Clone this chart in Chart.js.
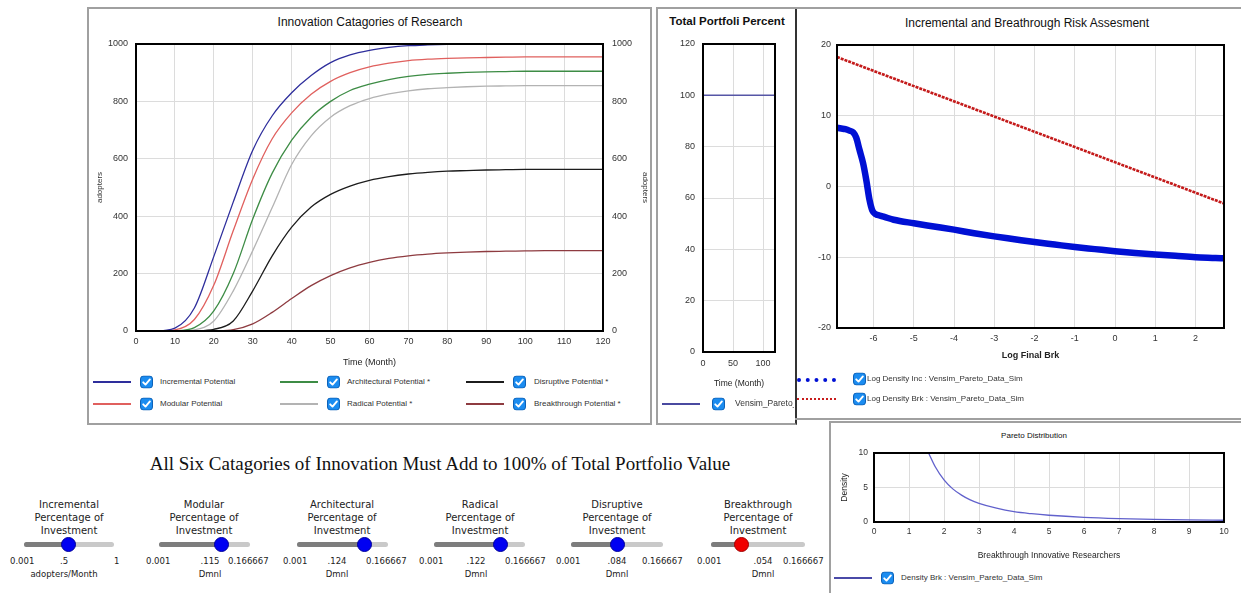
<!DOCTYPE html>
<html>
<head>
<meta charset="utf-8">
<script src="https://cdn.jsdelivr.net/npm/chart.js@4.4.1/dist/chart.umd.min.js"></script>
<style>
  html, body { margin: 0; padding: 0; }
  body { width: 1241px; height: 593px; position: relative; overflow: hidden; background: #fff;
         font-family: "Liberation Sans", Arial, sans-serif; color: #222; }
  .panel { position: absolute; box-sizing: border-box; border: 2px solid #a0a0a0; }
  canvas { position: absolute; }
  .abs { position: absolute; white-space: nowrap; }
  .ptitle { font-size: 12px; color: #111; transform: translateX(-50%); }
  .legtxt { font-size: 8px; color: #333; transform: translateY(-50%); }
  .sample { position: absolute; height: 0; }
  .cb { position: absolute; width: 13px; height: 13px; transform: translateY(-50%); }
  .headline { font-family: "Liberation Serif", "Times New Roman", serif; font-size: 19px; color: #111;
              transform: translateX(-50%); }
  .sl-title { font-family: "DejaVu Sans", sans-serif; font-size: 10px; line-height: 13px; color: #222;
              text-align: center; transform: translateX(-50%); }
  .sl-lab { font-family: "DejaVu Sans", sans-serif; font-size: 8.5px; color: #222; }
  .track { position: absolute; height: 5px; border-radius: 3px; background: #c9c9c9; overflow: hidden; }
  .track .fill { position: absolute; left: 0; top: 0; bottom: 0; background: #7d7d7d; }
  .thumb { position: absolute; width: 15px; height: 15px; border-radius: 50%; box-sizing: border-box; }
</style>
</head>
<body>

<script>
// ---------------- data ----------------
// Innovation categories: adopters over time (months)
const months = [0, 5, 10, 15, 20, 25, 30, 35, 40, 45, 50, 55, 60, 65, 70, 75, 80, 85, 90, 95, 100, 105, 110, 115, 120];
const incrementalPotential = [0, 0, 10, 80, 260, 450, 630, 750, 830, 890, 935, 962, 978, 988, 994, 997, 999, 1000, 1000, 1000, 1000, 1000, 1000, 1000, 1000];
const modularPotential = [0, 0, 4, 40, 160, 350, 530, 670, 760, 825, 870, 900, 920, 933, 942, 947, 950, 952, 953, 954, 955, 955, 955, 955, 955];
const architecturalPotential = [0, 0, 1, 12, 70, 200, 390, 550, 665, 745, 800, 838, 860, 876, 887, 894, 898, 901, 903, 904, 905, 905, 905, 905, 905];
const radicalPotential = [0, 0, 0, 4, 35, 140, 280, 430, 580, 680, 745, 785, 810, 826, 837, 844, 848, 851, 853, 854, 855, 855, 855, 855, 855];
const disruptivePotential = [0, 0, 0, 1, 6, 35, 140, 262, 362, 432, 476, 505, 525, 538, 547, 553, 557, 559, 561, 562, 563, 563, 563, 563, 563];
const breakthroughPotential = [0, 0, 0, 0, 1, 5, 25, 65, 113, 158, 193, 220, 239, 253, 262, 268, 272, 275, 277, 278, 279, 280, 280, 280, 280];
const potentialNames = ["Incremental Potential", "Modular Potential", "Architectural Potential *", "Radical Potential *", "Disruptive Potential *", "Breakthrough Potential *"];

// Total portfolio percent over time
const portfolioMonths = [0, 120];
const portfolioPercent = [100, 100];

// Risk assessment: log density against log final breakthrough
const logIncX = [-6.908, -6.8, -6.7, -6.6, -6.5, -6.43, -6.35, -6.26, -6.18, -6.1, -6.03, -5.95, -5.85, -5.73, -5.5, -5.0, -4.5, -4.0, -3.5, -3.0, -2.5, -2.0, -1.5, -1.0, -0.5, 0, 0.5, 1.0, 1.5, 2.0, 2.5, 2.708];
const logDensityInc = [8.3, 8.2, 8.1, 7.9, 7.6, 6.9, 5.2, 3.3, 0.9, -1.9, -3.4, -3.9, -4.1, -4.3, -4.7, -5.2, -5.65, -6.1, -6.6, -7.05, -7.45, -7.85, -8.2, -8.55, -8.85, -9.15, -9.4, -9.6, -9.8, -10.0, -10.1, -10.15];
const logBrkX = [-6.908, 2.708];
const logDensityBrk = [18.3, -2.4];

// Pareto distribution of breakthrough researchers
const researchers = [1.56, 1.75, 2, 2.25, 2.5, 2.75, 3, 3.5, 4, 4.5, 5, 6, 7, 8, 9, 10];
const densityBrk = [10, 8.0, 6.1, 4.8, 3.9, 3.2, 2.7, 2.0, 1.5, 1.2, 0.98, 0.68, 0.5, 0.38, 0.3, 0.25];

// Investment sliders
const sliderNames = ["Incremental", "Modular", "Architectural", "Radical", "Disruptive", "Breakthrough"];
const sliderMin = [0.001, 0.001, 0.001, 0.001, 0.001, 0.001];
const sliderMax = [1, 0.166667, 0.166667, 0.166667, 0.166667, 0.166667];
const sliderValue = [0.5, 0.115, 0.124, 0.122, 0.084, 0.054];
const sliderValueText = [".5", ".115", ".124", ".122", ".084", ".054"];
const sliderUnits = ["adopters/Month", "Dmnl", "Dmnl", "Dmnl", "Dmnl", "Dmnl"];
</script>

<!-- panel frames -->
<div class="panel" style="left:87px;top:7px;width:565px;height:418px;"></div>
<div class="panel" style="left:656px;top:7px;width:141px;height:418px;border-right:2px solid #333;"></div>
<div class="panel" style="left:795px;top:7px;width:450px;height:413px;border-left:none;"></div>
<div class="panel" style="left:829px;top:421px;width:416px;height:176px;"></div>

<div class="abs ptitle" style="left:370px;top:15px;">Innovation Catagories of Research</div>
<div class="abs ptitle" style="left:727px;top:15px;font-weight:bold;font-size:11.5px;">Total Portfoli Percent</div>
<div class="abs ptitle" style="left:1027px;top:16px;">Incremental and Breathrough Risk Assesment</div>
<div class="abs ptitle" style="left:1034px;top:431px;font-size:8px;">Pareto Distribution</div>

<canvas id="cInnov" width="562" height="366" style="left:88px;top:8px;"></canvas>
<canvas id="cTotal" width="136" height="390" style="left:658px;top:8px;"></canvas>
<canvas id="cRisk" width="444" height="355" style="left:796px;top:9px;"></canvas>
<canvas id="cPareto" width="409" height="140" style="left:831px;top:424px;"></canvas>

<div class="abs headline" style="left:440px;top:453px;">All Six Catagories of Innovation Must Add to 100% of Total Portfolio Value</div>

<div id="legends"></div>
<div id="sliders"></div>

<script>
const CHECK_SVG = '<svg width="13" height="13" viewBox="0 0 13 13"><rect x="0.5" y="0.5" width="12" height="12" rx="3" fill="#1b8cf0" stroke="#0e62b8" stroke-width="1"/><path d="M3.2 6.8 L5.5 9.1 L9.9 3.9" fill="none" stroke="#fff" stroke-width="1.9" stroke-linecap="round" stroke-linejoin="round"/></svg>';

const legendHost = document.getElementById('legends');
function legendItem(lineX, lineW, y, lineCss, cbX, text, textX, clipRight, fontSize) {
  const s = document.createElement('div');
  s.className = 'sample';
  s.style.cssText = `left:${lineX}px;width:${lineW}px;top:${y}px;${lineCss}`;
  legendHost.appendChild(s);
  const c = document.createElement('div');
  c.className = 'cb';
  c.style.left = cbX + 'px';
  c.style.top = y + 'px';
  c.innerHTML = CHECK_SVG;
  legendHost.appendChild(c);
  const t = document.createElement('div');
  t.className = 'abs legtxt';
  t.style.left = textX + 'px';
  t.style.top = y + 'px';
  if (fontSize) t.style.fontSize = fontSize + 'px';
  if (clipRight) { t.style.width = (clipRight - textX) + 'px'; t.style.overflow = 'hidden'; }
  t.textContent = text;
  legendHost.appendChild(t);
}

// frame around the plotting area
const frame = {
  id: 'frame',
  afterDatasetsDraw(chart) {
    const { ctx, chartArea: a } = chart;
    ctx.save();
    ctx.strokeStyle = '#000';
    ctx.lineWidth = 2;
    ctx.strokeRect(a.left, a.top, a.right - a.left, a.bottom - a.top);
    ctx.restore();
  }
};

Chart.defaults.font.family = '"Liberation Sans", Arial, sans-serif';
Chart.defaults.color = '#333';
Chart.defaults.animation = false;
Chart.defaults.responsive = false;
Chart.defaults.plugins.legend.display = false;
Chart.defaults.plugins.tooltip.enabled = false;
Chart.defaults.elements.point.radius = 0;

const GRID = { color: '#dcdcdc', lineWidth: 1, drawTicks: false };
const tickFont = { size: 9 };
const plain = v => String(v);

function xy(xs, ys) { return xs.map((x, i) => ({ x, y: ys[i] })); }

// ---------- Innovation categories ----------
const innovColors = ['#2e2e9c', '#e0605e', '#3d8c45', '#b3b3b3', '#1c1c1c', '#8e3b40'];
const innovSeries = [incrementalPotential, modularPotential, architecturalPotential, radicalPotential, disruptivePotential, breakthroughPotential];
new Chart(document.getElementById('cInnov'), {
  type: 'line',
  data: {
    datasets: innovSeries.map((s, i) => ({
      label: potentialNames[i], data: xy(months, s), borderColor: innovColors[i],
      borderWidth: 1.3, cubicInterpolationMode: 'monotone', yAxisID: 'y'
    }))
  },
  options: {
    layout: { padding: { top: 36, left: 0, right: 0, bottom: 0 } },
    scales: {
      x: { type: 'linear', min: 0, max: 120, grid: GRID, border: { display: false },
           ticks: { stepSize: 10, padding: 5, font: tickFont, callback: plain },
           title: { display: true, text: 'Time (Month)', font: { size: 9 }, color: '#222', padding: { top: 2, bottom: 6.5 } },
           afterFit(s) { s.height = 43; } },
      y: { min: 0, max: 1000, grid: GRID, border: { display: false },
           ticks: { stepSize: 200, padding: 8, font: tickFont, callback: plain },
           title: { display: true, text: 'adopters', font: { size: 8 }, color: '#333', padding: { top: 7, bottom: 0 } },
           afterFit(s) { s.width = 48; } },
      y2: { position: 'right', min: 0, max: 1000, grid: { display: false, drawTicks: false }, border: { display: false },
            ticks: { stepSize: 200, padding: 9, font: tickFont, callback: plain },
            title: { display: true, text: 'adopters', font: { size: 8 }, color: '#333', padding: { top: 0, bottom: 5 } },
            afterFit(s) { s.width = 47; } }
    }
  },
  plugins: [frame]
});
const legendCols = [[93, 140, 160], [280, 327, 347], [466, 513, 534]];
potentialNames.forEach((name, i) => {
  const col = legendCols[Math.floor(i / 2)];
  const y = i % 2 === 0 ? 382 : 404;
  legendItem(col[0], 38, y - 1, `border-top:2px solid ${innovColors[i]};`, col[1], name, col[2]);
});

// ---------- Total portfolio percent ----------
new Chart(document.getElementById('cTotal'), {
  type: 'line',
  data: { datasets: [{ label: 'Vensim_Pareto_Data_Sim', data: xy(portfolioMonths, portfolioPercent), borderColor: '#5656a6', borderWidth: 1.5 }] },
  options: {
    layout: { padding: { top: 36, left: 0, right: 19, bottom: 0 } },
    scales: {
      x: { type: 'linear', min: 0, max: 120, grid: GRID, border: { display: false },
           ticks: { stepSize: 50, includeBounds: false, padding: 6, font: tickFont, callback: plain },
           title: { display: true, text: 'Time (Month)', font: { size: 8.5 }, color: '#222', padding: { top: 2, bottom: 9.5 } },
           afterFit(s) { s.height = 46; } },
      y: { min: 0, max: 120, grid: GRID, border: { display: false },
           ticks: { stepSize: 20, padding: 8, font: tickFont, callback: plain },
           afterFit(s) { s.width = 45; } }
    }
  },
  plugins: [frame]
});
legendItem(662, 38, 403, 'border-top:2px solid #4a4aa0;', 712, 'Vensim_Pareto_Data_Sim', 735, 794, 8.5);

// ---------- Risk assessment ----------
new Chart(document.getElementById('cRisk'), {
  type: 'line',
  data: {
    datasets: [
      { label: 'Log Density Inc : Vensim_Pareto_Data_Sim', data: xy(logIncX, logDensityInc), borderColor: '#0010d4',
        borderWidth: 6.5, borderCapStyle: 'round', borderJoinStyle: 'round', cubicInterpolationMode: 'monotone' },
      { label: 'Log Density Brk : Vensim_Pareto_Data_Sim', data: xy(logBrkX, logDensityBrk), borderColor: '#c41a1a',
        borderWidth: 2.6, borderDash: [3, 1] }
    ]
  },
  options: {
    layout: { padding: { top: 36, left: 0, right: 16, bottom: 0 } },
    scales: {
      x: { type: 'linear', min: -6.908, max: 2.708, grid: GRID, border: { display: false },
           ticks: { stepSize: 1, includeBounds: false, padding: 5, font: tickFont, callback: plain },
           title: { display: true, text: 'Log Final Brk', font: { size: 9, weight: 'bold' }, color: '#222', padding: { top: 2, bottom: 3.5 } },
           afterFit(s) { s.height = 36; } },
      y: { min: -20, max: 20, grid: GRID, border: { display: false },
           ticks: { stepSize: 10, padding: 6, font: tickFont, callback: plain },
           afterFit(s) { s.width = 41; } }
    }
  },
  plugins: [frame]
});
legendItem(797, 39, 378, 'border-top:4px dotted #0010d4;', 853, 'Log Density Inc : Vensim_Pareto_Data_Sim', 867);
legendItem(797, 39, 398, 'border-top:2px dotted #c81c1c;', 853, 'Log Density Brk : Vensim_Pareto_Data_Sim', 867);

// ---------- Pareto distribution ----------
new Chart(document.getElementById('cPareto'), {
  type: 'line',
  data: { datasets: [{ label: 'Density Brk : Vensim_Pareto_Data_Sim', data: xy(researchers, densityBrk), borderColor: '#6161cc',
                        borderWidth: 1.3, cubicInterpolationMode: 'monotone' }] },
  options: {
    layout: { padding: { top: 29, left: 0, right: 16, bottom: 0 } },
    scales: {
      x: { type: 'linear', min: 0, max: 10, grid: GRID, border: { display: false },
           ticks: { stepSize: 1, padding: 5, font: { size: 8.5 }, callback: plain },
           title: { display: true, text: 'Breakthrough Innovative Researchers', font: { size: 8.5 }, color: '#222', padding: { top: 2, bottom: 3.5 } },
           afterFit(s) { s.height = 42; } },
      y: { min: 0, max: 10, grid: GRID, border: { display: false },
           ticks: { stepSize: 5, padding: 6, font: { size: 8.5 }, callback: plain },
           title: { display: true, text: 'Density', font: { size: 8.5 }, color: '#222', padding: { top: 9, bottom: 0 } },
           afterFit(s) { s.width = 43; } }
    }
  },
  plugins: [frame]
});
legendItem(834, 38, 577, 'border-top:2px solid #4a4aa8;', 881, 'Density Brk : Vensim_Pareto_Data_Sim', 901);

// ---------- investment sliders ----------
const sliderLayout = [
  { cx: 69,  trackL: 24,  trackW: 90, minX: 10,  maxX: 114, valX: 64 },
  { cx: 204, trackL: 159, trackW: 91, minX: 146, maxX: 228, valX: 210 },
  { cx: 342, trackL: 297, trackW: 91, minX: 283, maxX: 366, valX: 337 },
  { cx: 480, trackL: 434, trackW: 91, minX: 419, maxX: 505, valX: 476 },
  { cx: 617, trackL: 571, trackW: 92, minX: 556, maxX: 642, valX: 617 },
  { cx: 758, trackL: 711, trackW: 94, minX: 697, maxX: 783, valX: 763 }
];
const sliderHost = document.getElementById('sliders');
sliderNames.forEach((name, i) => {
  const L = sliderLayout[i];
  const trackY = 542;
  const frac = (sliderValue[i] - sliderMin[i]) / (sliderMax[i] - sliderMin[i]);
  const t = document.createElement('div');
  t.className = 'abs sl-title';
  t.style.left = L.cx + 'px';
  t.style.top = '498px';
  t.innerHTML = `${name}<br>Percentage of<br>Investment`;
  sliderHost.appendChild(t);

  const tr = document.createElement('div');
  tr.className = 'track';
  tr.style.cssText = `left:${L.trackL}px;top:${trackY}px;width:${L.trackW}px;`;
  const f = document.createElement('div');
  f.className = 'fill';
  f.style.width = (frac * L.trackW) + 'px';
  tr.appendChild(f);
  sliderHost.appendChild(tr);

  const th = document.createElement('div');
  th.className = 'thumb';
  const red = i === 5;
  th.style.cssText = `left:${L.trackL + frac * L.trackW - 7.5}px;top:${trackY + 2.5 - 7.5}px;` +
    `background:${red ? '#f00000' : '#0000f2'};border:1px solid ${red ? '#a00000' : '#00009a'};`;
  sliderHost.appendChild(th);

  const mk = (txt, x, y, center) => {
    const d = document.createElement('div');
    d.className = 'abs sl-lab';
    d.style.left = x + 'px';
    d.style.top = y + 'px';
    if (center) d.style.transform = 'translateX(-50%)';
    d.textContent = txt;
    sliderHost.appendChild(d);
  };
  mk(String(sliderMin[i]), L.minX, 556, false);
  mk(String(sliderMax[i]), L.maxX, 556, false);
  mk(sliderValueText[i], L.valX, 556, true);
  mk(sliderUnits[i], L.valX, 569, true);
});
</script>
</body>
</html>
